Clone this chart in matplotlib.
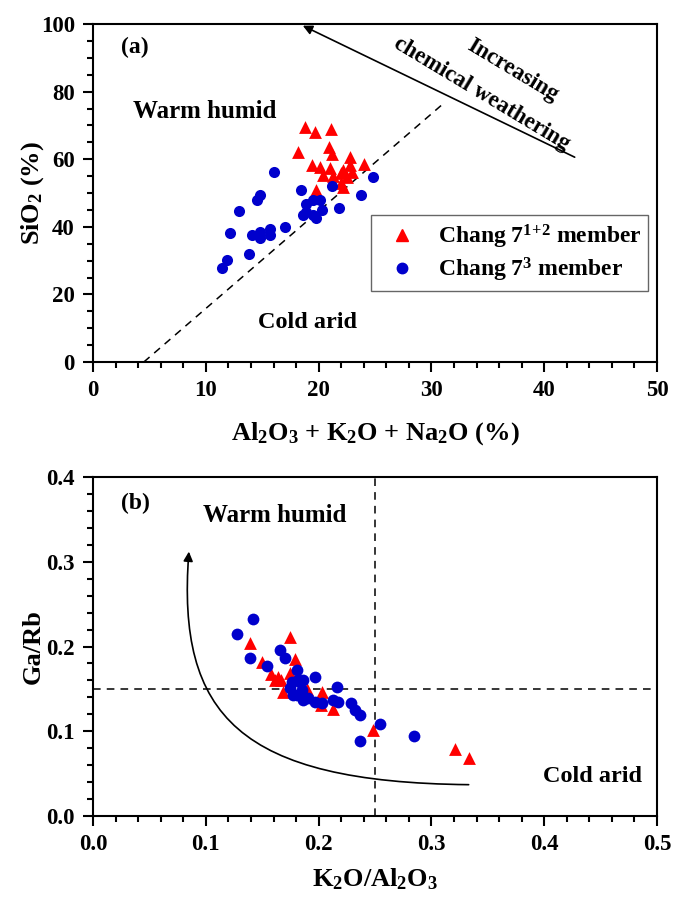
import matplotlib
matplotlib.use("Agg")
import matplotlib.pyplot as plt
from matplotlib.lines import Line2D
from matplotlib.path import Path
from matplotlib.patches import FancyArrowPatch
from matplotlib.ticker import MultipleLocator, FormatStrFormatter

plt.rcParams['font.family'] = ['Liberation Serif', 'DejaVu Serif']
plt.rcParams['font.weight'] = 'bold'
plt.rcParams['axes.labelweight'] = 'bold'
plt.rcParams['mathtext.fontset'] = 'custom'
plt.rcParams['mathtext.rm'] = 'Liberation Serif:bold'
plt.rcParams['mathtext.bf'] = 'Liberation Serif:bold'
plt.rcParams['mathtext.it'] = 'Liberation Serif:bold'
plt.rcParams['mathtext.default'] = 'bf'

RED = '#FF0000'
BLUE = '#0000CC'

# ---- (a) SiO2 vs Al2O3+K2O+Na2O ----
ch12_sum = [18.8, 19.7, 21.1, 18.2, 20.9, 21.2, 19.4, 20.1, 21.0, 20.4,
            22.8, 22.8, 24.0, 22.0, 22.5, 22.0, 19.8, 22.2, 23.0, 22.2, 21.3]
ch12_sio2 = [69.6, 68.1, 68.9, 62.0, 63.7, 61.4, 58.3, 57.8, 57.3, 55.3,
             60.7, 58.3, 58.5, 55.8, 54.8, 52.9, 50.9, 56.8, 56.3, 51.9, 55.0]

ch3_sum = [16.0, 14.8, 14.5, 12.9, 12.1, 11.9, 11.4, 13.8, 14.1, 14.8,
           14.8, 15.7, 15.7, 17.0, 18.4, 18.9, 19.5, 20.1, 18.9, 19.5,
           20.3, 19.8, 21.2, 21.8, 23.8, 24.8, 18.6]
ch3_sio2 = [56.3, 49.4, 47.9, 44.6, 38.1, 30.2, 27.9, 31.9, 37.6, 38.6,
            36.8, 39.3, 37.6, 40.0, 50.9, 46.9, 47.9, 47.9, 44.5, 43.5,
            45.0, 42.5, 52.0, 45.5, 49.4, 54.8, 43.5]

# climate boundary and weathering-trend arrow
boundary_a_x = [4.5, 31.0]
boundary_a_y = [0.0, 76.3]
trend_a_tail = (42.7, 60.6)
trend_a_head = (18.6, 99.5)

# ---- (b) Ga/Rb vs K2O/Al2O3 ----
ch12_k2o_al = [0.1746, 0.139, 0.150, 0.179, 0.158, 0.164, 0.161, 0.167, 0.1746,
               0.168, 0.190, 0.203, 0.202, 0.213, 0.248, 0.321, 0.333]
ch12_garb = [0.2116, 0.2045, 0.182, 0.185, 0.168, 0.164, 0.160, 0.160, 0.169,
             0.146, 0.150, 0.146, 0.131, 0.126, 0.102, 0.079, 0.068]

ch3_k2o_al = [0.1416, 0.1274, 0.1392, 0.166, 0.170, 0.154, 0.1806, 0.176, 0.1835,
              0.1746, 0.185, 0.1806, 0.188, 0.197, 0.197, 0.2027, 0.213, 0.2175,
              0.216, 0.229, 0.232, 0.2367, 0.254, 0.2367, 0.2847, 0.182, 0.186,
              0.191, 0.1776, 0.1865]
ch3_garb = [0.2324, 0.2144, 0.1868, 0.196, 0.186, 0.177, 0.172, 0.1585, 0.1585,
            0.1507, 0.1487, 0.1428, 0.139, 0.1644, 0.1349, 0.133, 0.1369, 0.135,
            0.1526, 0.133, 0.125, 0.119, 0.108, 0.089, 0.094, 0.1605, 0.1605,
            0.139, 0.1428, 0.137]

garb_split = 0.15
k2o_al_split = 0.25
# trend curve (cubic Bezier: start, two controls, end)
trend_b = [(0.333, 0.037), (0.13, 0.040), (0.074, 0.118), (0.085, 0.312)]

fig = plt.figure(figsize=(6.75, 9.06), dpi=100)
ax1 = fig.add_axes([0.1378, 0.6004, 0.8356, 0.3731])
ax2 = fig.add_axes([0.1378, 0.0993, 0.8356, 0.3742])

for ax in (ax1, ax2):
    for sp in ax.spines.values():
        sp.set_linewidth(1.5)
    ax.tick_params(which='both', direction='out', top=False, right=False,
                   width=1.5, labelsize=16.5)
    ax.tick_params(which='major', length=7, pad=6)
    ax.tick_params(which='minor', length=4)

# panel (a)
ax1.plot(boundary_a_x, boundary_a_y, ls=(0, (5, 4)), color='black', lw=1.1)
ax1.scatter(ch12_sum, ch12_sio2, marker='^', s=85, color=RED, zorder=3, linewidths=0)
ax1.scatter(ch3_sum, ch3_sio2, marker='o', s=64, color=BLUE, zorder=3, linewidths=0)
ax1.annotate('', xy=trend_a_head, xytext=trend_a_tail,
             arrowprops=dict(arrowstyle='-|>', color='black', lw=1.2,
                             mutation_scale=14, shrinkA=0, shrinkB=0))
ax1.set_xlim(0, 50)
ax1.set_ylim(0, 100)
ax1.xaxis.set_major_locator(MultipleLocator(10))
ax1.xaxis.set_minor_locator(MultipleLocator(2))
ax1.yaxis.set_major_locator(MultipleLocator(20))
ax1.yaxis.set_minor_locator(MultipleLocator(5))
ax1.set_xlabel(r'Al$_2$O$_3$ + K$_2$O + Na$_2$O (%)', fontsize=19, labelpad=14)
ax1.set_ylabel(r'SiO$_2$ (%)', fontsize=19, labelpad=-4)
ax1.text(2.5, 93.2, '(a)', fontsize=17, va='center', ha='left')
ax1.text(9.9, 74.0, 'Warm humid', fontsize=18, va='center', ha='center')
ax1.text(19.0, 11.8, 'Cold arid', fontsize=17.5, va='center', ha='center')
ax1.text(37.2, 86.3, 'Increasing', fontsize=16.5, va='center', ha='center', rotation=-31)
ax1.text(34.5, 79.2, 'chemical weathering', fontsize=16.5, va='center', ha='center', rotation=-31)

handles = [Line2D([], [], ls='none', marker='^', color=RED, markersize=8.5),
           Line2D([], [], ls='none', marker='o', color=BLUE, markersize=7.5)]
leg = ax1.legend(handles, [r'Chang 7$^{1\!+\!2}$ member', r'Chang 7$^{3}$ member'],
                 loc='center', bbox_to_anchor=(0.739, 0.3225),
                 fontsize=17, frameon=True, fancybox=False, edgecolor='#666666',
                 framealpha=1, handlelength=2.0, handletextpad=0.5,
                 borderpad=0.3, labelspacing=0.2)
leg.get_frame().set_linewidth(1.0)

# panel (b)
ax2.axhline(garb_split, ls=(0, (5, 4)), color='black', lw=1.1)
ax2.axvline(k2o_al_split, ls=(0, (5, 4)), color='black', lw=1.1)
ax2.scatter(ch12_k2o_al, ch12_garb, marker='^', s=85, color=RED, zorder=3, linewidths=0)
ax2.scatter(ch3_k2o_al, ch3_garb, marker='o', s=72, color=BLUE, zorder=3, linewidths=0)
curve = Path(trend_b, [Path.MOVETO, Path.CURVE4, Path.CURVE4, Path.CURVE4])
ax2.add_patch(FancyArrowPatch(path=curve, arrowstyle='-|>', color='black', lw=1.2,
                              mutation_scale=14, shrinkA=0, shrinkB=0))
ax2.set_xlim(0, 0.5)
ax2.set_ylim(0, 0.4)
ax2.xaxis.set_major_locator(MultipleLocator(0.1))
ax2.xaxis.set_minor_locator(MultipleLocator(0.02))
ax2.yaxis.set_major_locator(MultipleLocator(0.1))
ax2.yaxis.set_minor_locator(MultipleLocator(0.02))
ax2.xaxis.set_major_formatter(FormatStrFormatter('%.1f'))
ax2.yaxis.set_major_formatter(FormatStrFormatter('%.1f'))
ax2.set_xlabel(r'K$_2$O/Al$_2$O$_3$', fontsize=19, labelpad=8)
ax2.set_ylabel('Ga/Rb', fontsize=19, labelpad=1)
ax2.text(0.025, 0.369, '(b)', fontsize=17, va='center', ha='left')
ax2.text(0.161, 0.355, 'Warm humid', fontsize=18, va='center', ha='center')
ax2.text(0.443, 0.047, 'Cold arid', fontsize=17.5, va='center', ha='center')

fig.savefig('out.png', dpi=100)
